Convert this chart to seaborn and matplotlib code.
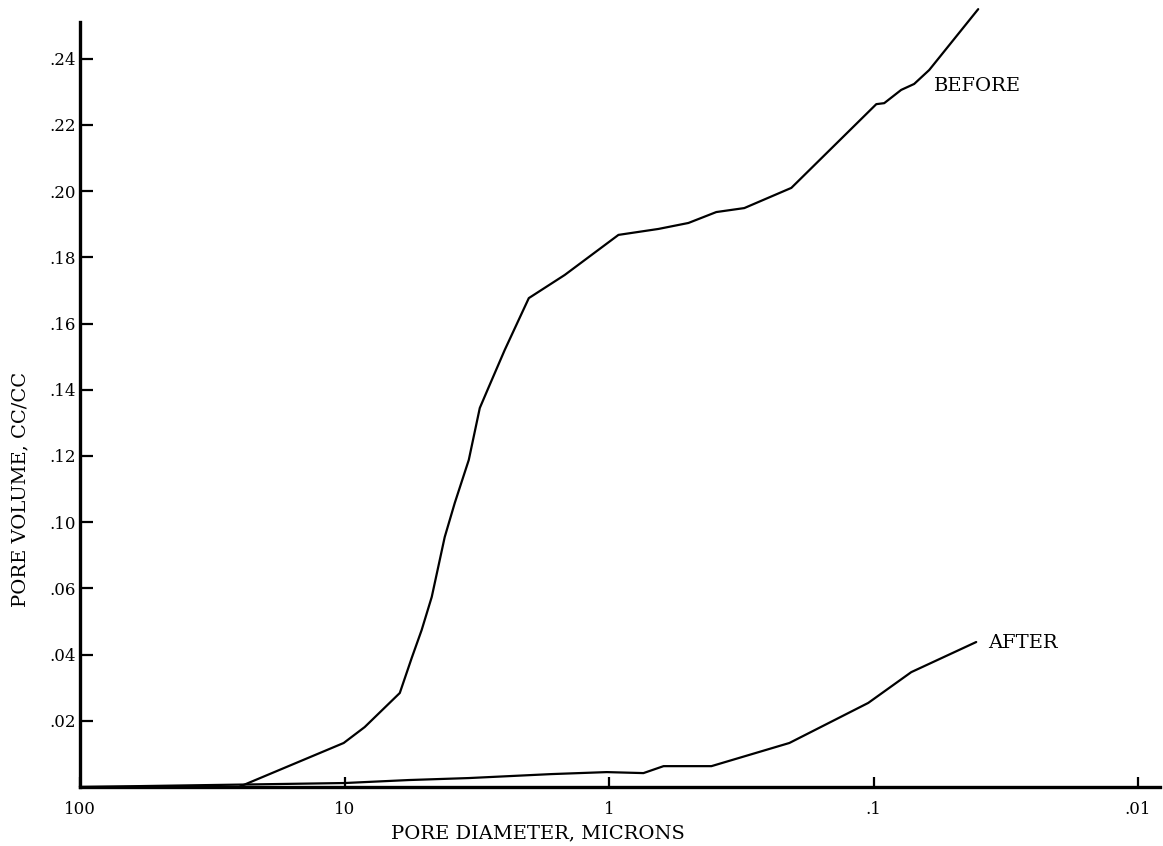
import numpy as np
import pandas as pd
import matplotlib
matplotlib.use("Agg")
import matplotlib.pyplot as plt
import seaborn as sns
from matplotlib.ticker import FixedLocator, FixedFormatter, NullLocator

# ---- data (y in evenly spaced axis units: each printed tick step = 0.02) ----
before_diam = [100, 25.1, 10.07, 8.39, 6.18, 5.57, 5.11, 4.68, 4.18, 3.83, 3.39,
               3.08, 2.85, 2.48, 2.01, 1.47, 0.921, 0.650, 0.501, 0.393, 0.308,
               0.2045, 0.0976, 0.0911, 0.0786, 0.0702, 0.0616, 0.0402]
before_vol = [0, 0, 0.0133, 0.0181, 0.0284, 0.0390, 0.0474, 0.0574, 0.0755, 0.0858,
              0.0988, 0.1145, 0.1208, 0.1320, 0.1477, 0.1547, 0.1668, 0.1686,
              0.1704, 0.1737, 0.1749, 0.1810, 0.2063, 0.2066, 0.2106, 0.2124,
              0.2166, 0.2350]

after_diam = [100, 10.0, 5.72, 3.39, 1.65, 1.02, 0.741, 0.622, 0.410, 0.208,
              0.1047, 0.0720, 0.0409]
after_vol = [0, 0.0012, 0.0021, 0.0027, 0.0039, 0.0045, 0.0042, 0.0063, 0.0063,
             0.0133, 0.0254, 0.0347, 0.0438]

x_tick_values = [100, 10, 1, 0.1, 0.01]
x_tick_labels = ["100", "10", "1", ".1", ".01"]
y_tick_values = [0.02, 0.04, 0.06, 0.08, 0.10, 0.12, 0.14, 0.16, 0.18, 0.20, 0.22]
y_tick_labels = [".02", ".04", ".06", ".10", ".12", ".14", ".16", ".18", ".20",
                 ".22", ".24"]

series_names = ["BEFORE", "AFTER"]

# ---- styling ----
sns.set_theme(style="ticks")
plt.rcParams["font.family"] = ["DejaVu Serif"]
plt.rcParams["text.color"] = "black"
plt.rcParams["axes.labelcolor"] = "black"

fig = plt.figure(figsize=(11.63, 8.46), dpi=100)
ax = fig.add_axes([80 / 1163, 1 - 787 / 846, (1160 - 80) / 1163, (787 - 22) / 846])

df_before = pd.DataFrame({"diam": before_diam, "vol": before_vol})
df_after = pd.DataFrame({"diam": after_diam, "vol": after_vol})

sns.lineplot(data=df_before, x="diam", y="vol", ax=ax, color="black", lw=1.6,
             sort=False, estimator=None, clip_on=False)
sns.lineplot(data=df_after, x="diam", y="vol", ax=ax, color="black", lw=1.6,
             sort=False, estimator=None, clip_on=False)

ax.set_xscale("log")
ax.set_xlim(100, 10 ** (2 - (1160 - 79) / 264.75))
ax.set_ylim(0, (787 - 22) / 3310)

ax.xaxis.set_major_locator(FixedLocator(x_tick_values))
ax.xaxis.set_major_formatter(FixedFormatter(x_tick_labels))
ax.xaxis.set_minor_locator(NullLocator())
ax.yaxis.set_major_locator(FixedLocator(y_tick_values))
ax.yaxis.set_major_formatter(FixedFormatter(y_tick_labels))
ax.yaxis.set_minor_locator(NullLocator())

ax.tick_params(axis="y", direction="in", length=9, width=1.6, labelsize=12,
               pad=3, colors="black")
ax.tick_params(axis="x", direction="in", length=7, width=1.6, labelsize=12,
               pad=10, colors="black")

for s in ["top", "right"]:
    ax.spines[s].set_visible(False)
for s in ["left", "bottom"]:
    ax.spines[s].set_linewidth(2.4)
    ax.spines[s].set_color("black")

ax.set_xlabel("PORE DIAMETER, MICRONS", fontsize=14, color="black")
ax.xaxis.set_label_coords((538 - 80) / 1080, (787 - 833) / 765)
ax.xaxis.label.set_va("center")
ax.set_ylabel("PORE VOLUME, CC/CC", fontsize=14, color="black")
ax.yaxis.set_label_coords((20 - 80) / 1080, (787 - 489) / 765)
ax.yaxis.label.set_va("center")

ax.text(0.0589, 0.2118, series_names[0], fontsize=14, ha="left", va="center",
        color="black")
ax.text(0.0369, 0.0435, series_names[1], fontsize=14, ha="left", va="center",
        color="black")

fig.savefig("out.png", dpi=100)
